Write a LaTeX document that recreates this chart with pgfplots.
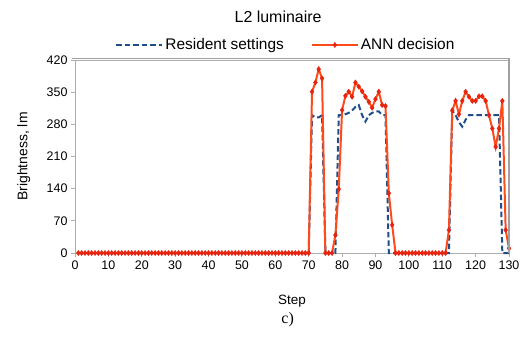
\documentclass[border=0pt]{standalone}
\usepackage{pgfplots}
\pgfplotsset{compat=1.18}
\usepackage{pgfplotstable}
\usepackage{fontspec}
\setmainfont{Liberation Sans}
\newfontfamily\timesfont{Liberation Serif}
\definecolor{resblue}{HTML}{1F4E8C}
\definecolor{annline}{HTML}{FF4A1A}
\definecolor{annmark}{HTML}{E62410}
\definecolor{axgray}{HTML}{ADADAD}
\definecolor{framegray}{HTML}{A0A0A0}
\pgfplotstableread{
step res ann
1 0 0
2 0 0
3 0 0
4 0 0
5 0 0
6 0 0
7 0 0
8 0 0
9 0 0
10 0 0
11 0 0
12 0 0
13 0 0
14 0 0
15 0 0
16 0 0
17 0 0
18 0 0
19 0 0
20 0 0
21 0 0
22 0 0
23 0 0
24 0 0
25 0 0
26 0 0
27 0 0
28 0 0
29 0 0
30 0 0
31 0 0
32 0 0
33 0 0
34 0 0
35 0 0
36 0 0
37 0 0
38 0 0
39 0 0
40 0 0
41 0 0
42 0 0
43 0 0
44 0 0
45 0 0
46 0 0
47 0 0
48 0 0
49 0 0
50 0 0
51 0 0
52 0 0
53 0 0
54 0 0
55 0 0
56 0 0
57 0 0
58 0 0
59 0 0
60 0 0
61 0 0
62 0 0
63 0 0
64 0 0
65 0 0
66 0 0
67 0 0
68 0 0
69 0 0
70 0 0
71 300 351
72 295 371
73 295 400
74 300 380
75 0 0
76 0 0
77 0 0
78 0 39
79 300 139
80 300 311
81 302 342
82 305 351
83 310 340
84 318 371
85 322 362
86 300 352
87 286 340
88 300 329
89 305 316
90 308 335
91 308 351
92 300 322
93 300 320
94 0 130
95 0 61
96 0 0
97 0 0
98 0 0
99 0 0
100 0 0
101 0 0
102 0 0
103 0 0
104 0 0
105 0 0
106 0 0
107 0 0
108 0 0
109 0 0
110 0 0
111 0 0
112 0 50
113 310 310
114 300 331
115 285 302
116 275 331
117 290 351
118 300 340
119 300 331
120 300 331
121 300 341
122 300 341
123 300 331
124 300 300
125 300 271
126 300 231
127 300 271
128 0 331
129 0 50
130 0 10
}\datatable
\begin{document}
\begin{tikzpicture}[x=1bp,y=1bp]
\useasboundingbox (0,0) rectangle (528,344);
\begin{axis}[
  name=ax,
  at={(75bp,91bp)}, anchor=south west,
  scale only axis, width=434bp, height=193bp,
  xmin=0, xmax=130, ymin=0, ymax=420,
  xtick={0,10,...,130}, ytick={0,70,...,420},
  axis line style={axgray, line width=1pt},
  tick style={axgray, line width=1pt},
  tick align=outside,
  xtick pos=bottom, ytick pos=left,
  major tick length=4bp,
  tick label style={font=\fontsize{12.5}{14}\selectfont},
  /pgf/number format/assume math mode=true,
  xlabel={Step}, ylabel={Brightness, lm},
  xlabel style={font=\fontsize{13.5}{15}\selectfont, at={(axis description cs:0.5,-0.265)}, anchor=base},
  ylabel style={font=\fontsize{14}{15}\selectfont, at={(axis description cs:-0.11,0.5)}, anchor=base},
  legend style={draw=none, fill=none, font=\fontsize{15.5}{17}\selectfont, legend columns=2,
    at={(axis description cs:0.486,1.078)}, anchor=center,
    /tikz/every even column/.append style={column sep=25bp}},
  legend image code/.code={\draw[#1] (0bp,0bp) -- (46bp,0bp); \path[#1] plot coordinates {(23bp,0bp)};},
  clip=false,
]
\addplot[resblue, line width=2pt, dash pattern=on 5.5bp off 3bp] table[x=step,y=res]{\datatable};
\addlegendentry{Resident settings}
\addplot[annline, line width=2pt, mark=diamond*, mark size=2.6bp, mark options={fill=annmark, draw=annmark, line width=0.4pt, solid}] table[x=step,y=ann]{\datatable};
\addlegendentry{ANN decision}
\node[font=\fontsize{16}{18}\selectfont] at (axis description cs:0.468,1.223) {L2 luminaire};
\node[font=\timesfont\fontsize{16}{18}\selectfont] at (axis description cs:0.49,-0.347) {c)};
\end{axis}
\draw[draw=framegray, line width=1.3pt] ([xshift=-3bp,yshift=1.5bp]ax.north west) -- ([yshift=1.5bp]ax.north east) -- (ax.south east);
\end{tikzpicture}
\end{document}
